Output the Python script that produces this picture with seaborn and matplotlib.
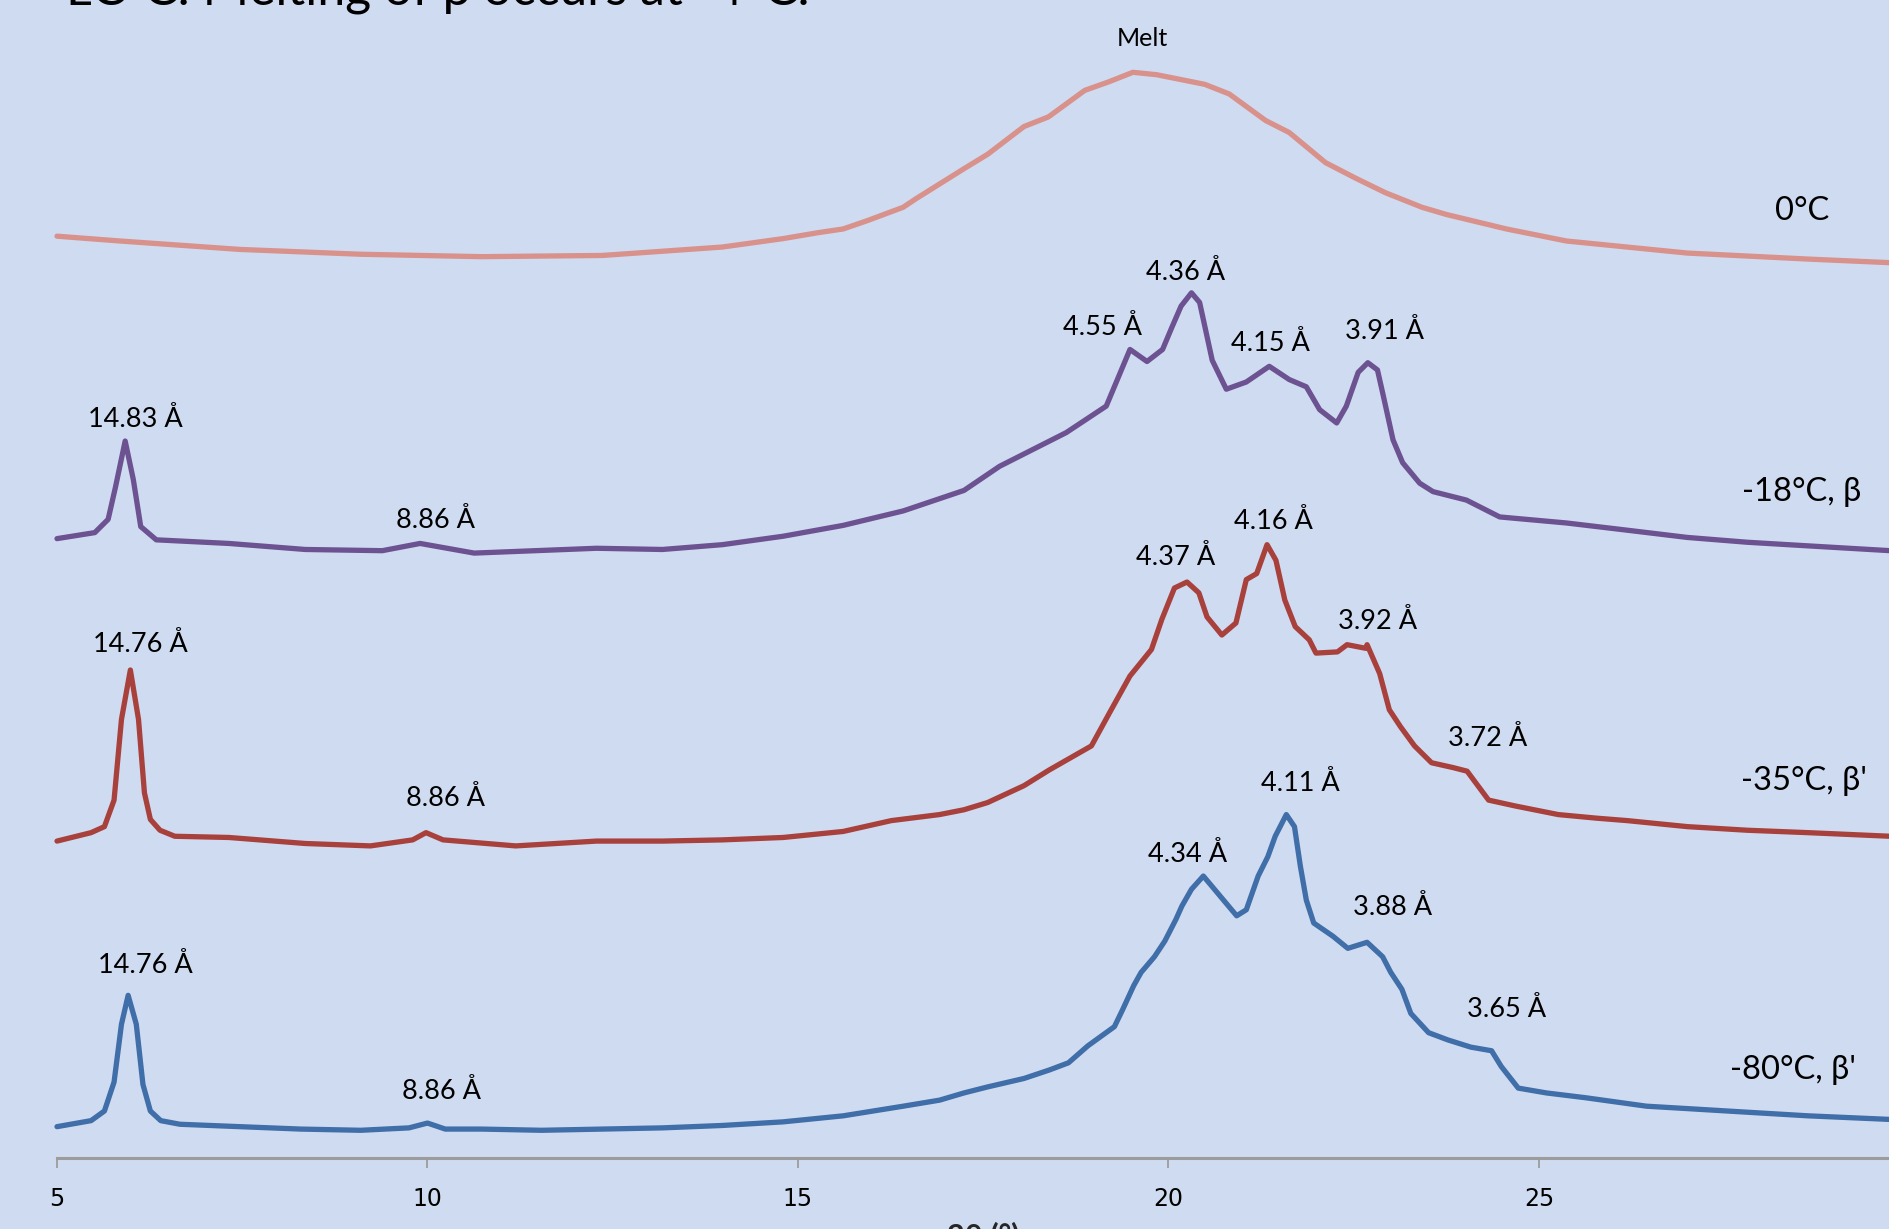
import numpy as np
import pandas as pd
import matplotlib
matplotlib.use("Agg")
import matplotlib.pyplot as plt
import seaborn as sns

# ---------------- data (2theta in degrees, intensity in arbitrary units) ----------------
tt_0C = [5.00, 5.85, 7.47, 9.10, 10.73, 12.36, 13.98, 14.80, 15.28, 15.61, 15.94, 16.42, 16.59,
         17.24, 17.56, 18.05, 18.38, 18.87, 19.19, 19.52, 19.84, 20.49, 20.82, 21.31, 21.63,
         22.12, 22.53, 22.93, 23.42, 23.75, 24.56, 25.37, 27.00, 28.63, 29.74]
int_0C = [765, 761, 754, 750, 748, 749, 756, 763, 768, 771, 778, 789, 796,
          821, 833, 856, 864, 886, 893, 901, 899, 891, 883, 861, 851,
          826, 813, 801, 789, 783, 771, 761, 751, 746, 743]

tt_18 = [5.00, 5.51, 5.69, 5.79, 5.92, 6.03, 6.13, 6.34, 7.32, 8.35, 9.39, 9.90, 10.63, 12.28,
         13.17, 13.98, 14.80, 15.61, 16.42, 17.24, 17.72, 18.17, 18.62, 19.16, 19.48, 19.71,
         19.92, 20.05, 20.17, 20.31, 20.42, 20.59, 20.78, 21.05, 21.36, 21.63, 21.86, 22.04,
         22.27, 22.40, 22.56, 22.69, 22.82, 22.89, 23.03, 23.16, 23.39, 23.57, 24.02, 24.47,
         25.37, 26.19, 27.00, 27.81, 28.63, 29.74]
int_18 = [514, 519, 530, 557, 595, 563, 524, 513, 510, 505, 504, 510, 502, 506,
          505, 509, 516, 525, 537, 554, 574, 588, 602, 624, 671, 661,
          671, 690, 707, 718, 710, 662, 638, 644, 657, 646, 640, 621,
          610, 624, 652, 660, 654, 635, 596, 577, 560, 553, 546, 532,
          527, 521, 515, 511, 508, 504]

tt_35 = [5.00, 5.46, 5.64, 5.77, 5.87, 5.99, 6.10, 6.18, 6.26, 6.39, 6.59, 7.32, 8.35, 9.23,
         9.80, 9.98, 10.21, 11.19, 12.28, 13.17, 13.98, 14.80, 15.61, 16.26, 16.91, 17.24,
         17.56, 18.05, 18.39, 18.96, 19.20, 19.48, 19.77, 19.91, 20.08, 20.25, 20.41, 20.52,
         20.72, 20.91, 21.05, 21.19, 21.33, 21.45, 21.57, 21.71, 21.90, 21.99, 22.28, 22.41,
         22.66, 22.68, 22.85, 22.98, 23.13, 23.32, 23.55, 23.84, 24.03, 24.32, 24.69, 25.26,
         25.78, 26.19, 27.00, 27.81, 28.63, 29.74]
int_35 = [263, 270, 275, 297, 364, 405, 364, 303, 281, 272, 267, 266, 261, 259,
          264, 270, 264, 259, 263, 263, 264, 266, 271, 280, 285, 289,
          295, 309, 322, 342, 369, 400, 422, 447, 473, 478, 469, 449,
          434, 444, 480, 485, 509, 496, 463, 441, 430, 419, 420, 426,
          423, 426, 402, 372, 358, 342, 328, 324, 321, 297, 292, 285,
          282, 280, 275, 272, 270, 267]

tt_80 = [5.00, 5.46, 5.64, 5.77, 5.87, 5.96, 6.07, 6.16, 6.26, 6.40, 6.66, 7.47, 8.29, 9.10,
         9.75, 10.00, 10.24, 10.73, 11.54, 12.36, 13.17, 13.98, 14.80, 15.61, 16.42, 16.91,
         17.24, 17.56, 18.05, 18.39, 18.65, 18.91, 19.27, 19.38, 19.53, 19.63, 19.81, 19.95,
         20.10, 20.18, 20.31, 20.47, 20.62, 20.77, 20.92, 21.05, 21.13, 21.21, 21.34, 21.44,
         21.59, 21.70, 21.78, 21.86, 21.96, 22.22, 22.42, 22.68, 22.89, 23.00, 23.15, 23.27,
         23.51, 23.77, 24.08, 24.36, 24.49, 24.72, 25.10, 25.63, 26.45, 27.00, 27.81, 28.63, 29.74]
int_80 = [26, 31, 39, 63, 111, 135, 111, 61, 39, 31, 28, 26, 24, 23,
          25, 29, 24, 24, 23, 24, 25, 27, 30, 35, 43, 48,
          54, 59, 66, 73, 79, 93, 109, 123, 143, 154, 167, 180,
          198, 209, 223, 234, 223, 212, 201, 206, 220, 234, 250, 267,
          285, 275, 242, 214, 195, 184, 174, 179, 167, 154, 140, 120,
          104, 98, 92, 89, 76, 58, 54, 50, 43, 41, 38, 35, 32]

series_names = ["0°C", "-18°C, β", "-35°C, β'", "-80°C, β'"]
series_colors = ["#D8918B", "#6C5291", "#A8403C", "#3F6EA8"]

# peak annotations: (text, 2theta, intensity)
peak_text = ["Melt",
             "14.83 Å", "8.86 Å", "4.55 Å", "4.36 Å", "4.15 Å", "3.91 Å",
             "14.76 Å", "8.86 Å", "4.37 Å", "4.16 Å", "3.92 Å", "3.72 Å",
             "14.76 Å", "8.86 Å", "4.34 Å", "4.11 Å", "3.88 Å", "3.65 Å"]
peak_tt = [19.65,
           6.06, 10.11, 19.11, 20.23, 21.37, 22.92,
           6.12, 10.24, 20.10, 21.42, 22.82, 24.30,
           6.19, 10.19, 20.26, 21.78, 23.03, 24.56]
peak_int = [929,
            613, 529, 689, 735, 676, 686,
            426, 298, 498, 528, 445, 348,
            160, 55, 252, 311, 208, 123]

name_tt = [28.55, 28.55, 28.58, 28.43]
name_int = [786, 553, 313, 73]

x_ticks = [5, 10, 15, 20, 25]
title_text = "LC-C: Melting of β occurs at -4°C."
x_label = "2θ (°)"

# ---------------- style ----------------
sns.set_theme(style="white")
plt.rcParams['font.family'] = ['Lato', 'DejaVu Sans']
BG = "#CFDBF0"

W, H = 1890, 1229
fig = plt.figure(figsize=(W / 100, H / 100), dpi=100, facecolor=BG)
ax = fig.add_axes([57 / W, (H - 1158) / H, 25 * 74.1 / W, 1158 / H])
ax.set_facecolor(BG)

curves = [(tt_0C, int_0C), (tt_18, int_18), (tt_35, int_35), (tt_80, int_80)]
frames = []
for name, (tt, it) in zip(series_names, curves):
    frames.append(pd.DataFrame({"tt": tt, "I": it, "series": name}))
df = pd.concat(frames, ignore_index=True)

for name, col in zip(series_names, series_colors):
    sub = df[df["series"] == name]
    sns.lineplot(data=sub, x="tt", y="I", ax=ax, color=col, lw=3.8,
                 estimator=None, sort=True, legend=False, clip_on=False,
                 solid_joinstyle="round", solid_capstyle="round")

ax.set_xlim(5, 30)
ax.set_ylim(0, 961)

# spines / ticks
for s in ["top", "right", "left"]:
    ax.spines[s].set_visible(False)
ax.spines["bottom"].set_color("#9C9C9C")
ax.spines["bottom"].set_linewidth(2.2)
ax.set_yticks([])
ax.set_xticks(x_ticks)
ax.set_xticklabels([str(t) for t in x_ticks],
                   fontfamily=['Liberation Sans Narrow', 'DejaVu Sans'], fontsize=17)
ax.tick_params(axis="x", direction="out", length=7, width=1.3, color="#9C9C9C",
               pad=14, labelcolor="black", bottom=True)
ax.set_xlabel(x_label, fontsize=22, fontweight="bold")
ax.xaxis.set_label_coords(0.5, -0.055)
ax.set_ylabel("")

# annotations
for t, x, y in zip(peak_text, peak_tt, peak_int):
    fs = 18 if t == "Melt" else 19.5
    ax.text(x, y, t, ha="center", va="center", fontsize=fs, color="black")
for t, x, y in zip(series_names, name_tt, name_int):
    ax.text(x, y, t, ha="center", va="center", fontsize=23.5, color="black")

fig.text(66 / W, 1 - 4 / H, title_text, ha="left", va="baseline", fontsize=36, color="black")

fig.savefig("out.png", dpi=100, facecolor=BG)
